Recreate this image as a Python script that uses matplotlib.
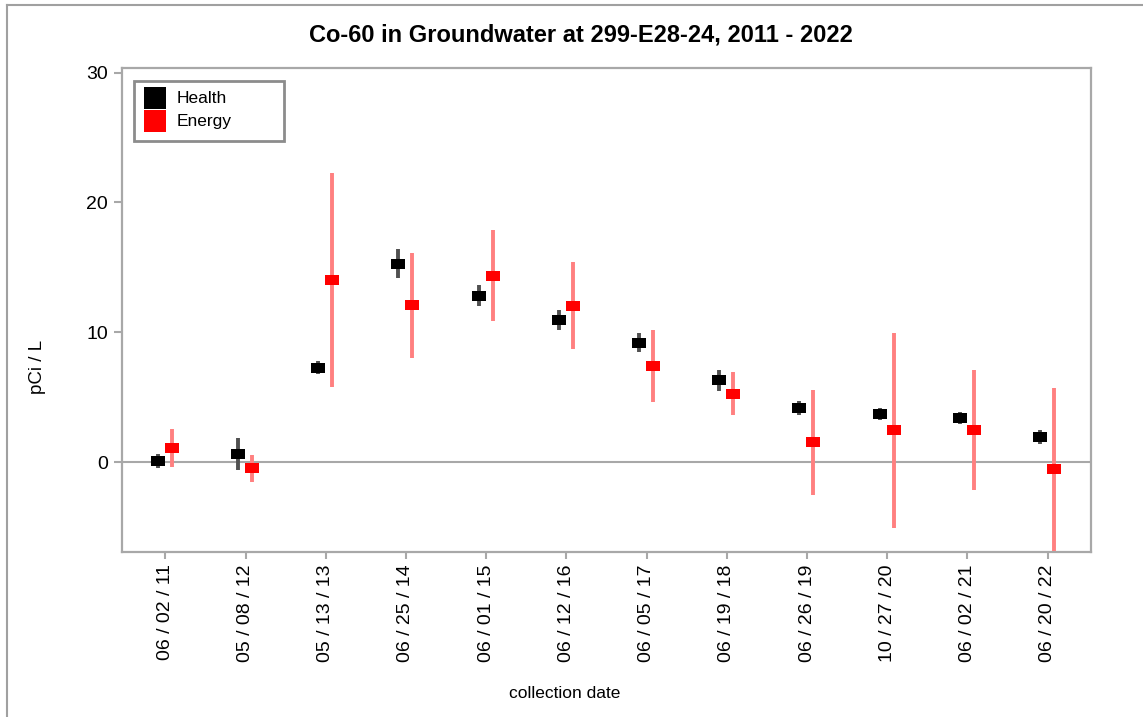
import matplotlib
matplotlib.use("Agg")
import matplotlib.pyplot as plt
import numpy as np
from matplotlib.path import Path
from matplotlib.lines import Line2D
from matplotlib.patches import Rectangle

dates = ["06 / 02 / 11", "05 / 08 / 12", "05 / 13 / 13", "06 / 25 / 14", "06 / 01 / 15",
         "06 / 12 / 16", "06 / 05 / 17", "06 / 19 / 18", "06 / 26 / 19", "10 / 27 / 20",
         "06 / 02 / 21", "06 / 20 / 22"]
health_val = [0.1, 0.64, 7.27, 15.3, 12.82, 10.97, 9.2, 6.32, 4.16, 3.7, 3.42, 1.93]
health_err = [0.55, 1.25, 0.5, 1.1, 0.8, 0.75, 0.73, 0.8, 0.55, 0.45, 0.45, 0.55]
energy_val = [1.08, -0.46, 14.05, 12.09, 14.36, 12.05, 7.42, 5.27, 1.54, 2.47, 2.47, -0.54]
energy_err = [1.47, 1.05, 8.25, 4.05, 3.5, 3.35, 2.8, 1.65, 4.05, 7.5, 4.6, 6.3]
series_names = ["Health", "Energy"]
series_colors = ["black", "red"]

W, H = 1143, 717
fig = plt.figure(figsize=(W / 100, H / 100), dpi=100)
plt.rcParams['font.family'] = ['Liberation Sans', 'DejaVu Sans']

ax = fig.add_axes([122 / W, 1 - 552 / H, (1091 - 122) / W, (552 - 68) / H])

grey = '#a8a8a8'
x = np.arange(len(dates))
rect = Path([(-0.7, -0.5), (0.7, -0.5), (0.7, 0.5), (-0.7, 0.5), (-0.7, -0.5)],
            [Path.MOVETO, Path.LINETO, Path.LINETO, Path.LINETO, Path.CLOSEPOLY])

ax.axhline(0, color=grey, lw=1.5, zorder=1)

ax.errorbar(x - 0.095, health_val, yerr=health_err, fmt='none', ecolor='#505050',
            elinewidth=2.8, capsize=0, zorder=2)
ax.plot(x - 0.095, health_val, linestyle='none', marker=rect, markersize=10.3,
        color='black', markeredgewidth=0, zorder=3)

ax.errorbar(x + 0.08, energy_val, yerr=energy_err, fmt='none', ecolor='#ff8080',
            elinewidth=2.8, capsize=0, zorder=4)
ax.plot(x + 0.08, energy_val, linestyle='none', marker=rect, markersize=10.3,
        color='red', markeredgewidth=0, zorder=5)

ax.set_xlim(-0.54, 11.54)
ax.set_ylim(-6.9, 30.35)
ax.set_xticks(x)
ax.set_xticklabels(dates, rotation=90, fontsize=14)
ax.set_yticks([0, 10, 20, 30])
ax.tick_params(axis='y', labelsize=14, length=6, width=1.5, color=grey, pad=4)
ax.tick_params(axis='x', length=5, width=1.5, color=grey, pad=4)
for s in ax.spines.values():
    s.set_color(grey)
    s.set_linewidth(1.6)

# legend drawn in figure pixel coordinates
def fx(px):
    return px / W

def fy(py):
    return 1 - py / H

fig.add_artist(Rectangle((fx(134), fy(141)), fx(284) - fx(134), fy(81) - fy(141),
                         transform=fig.transFigure, facecolor='white',
                         edgecolor='#8c8c8c', lw=2, zorder=10))
row_tops = [87, 110]
for name, col, top in zip(series_names, series_colors, row_tops):
    fig.add_artist(Rectangle((fx(144), fy(top + 22)), fx(166) - fx(144), fy(top) - fy(top + 22),
                             transform=fig.transFigure, facecolor=col, edgecolor='none',
                             zorder=11))
    fig.text(fx(177), fy(top + 11.5), name, ha='left', va='center', fontsize=12.5, zorder=11)

fig.text(581 / W, 1 - 35 / H, "Co-60 in Groundwater at 299-E28-24, 2011 - 2022",
         ha='center', va='center', fontsize=17, fontweight='bold')
fig.text(37 / W, 1 - 367 / H, "pCi / L", rotation=90, ha='center', va='center', fontsize=13.5)
fig.text(565 / W, 1 - 693 / H, "collection date", ha='center', va='center', fontsize=12.5)

fig.add_artist(Line2D([7 / W, 1], [1 - 5 / H, 1 - 5 / H], transform=fig.transFigure,
                      color='#a0a0a0', lw=1.5))
fig.add_artist(Line2D([7 / W, 7 / W], [0, 1 - 5 / H], transform=fig.transFigure,
                      color='#a0a0a0', lw=1.5))

fig.savefig('out.png', dpi=100)
